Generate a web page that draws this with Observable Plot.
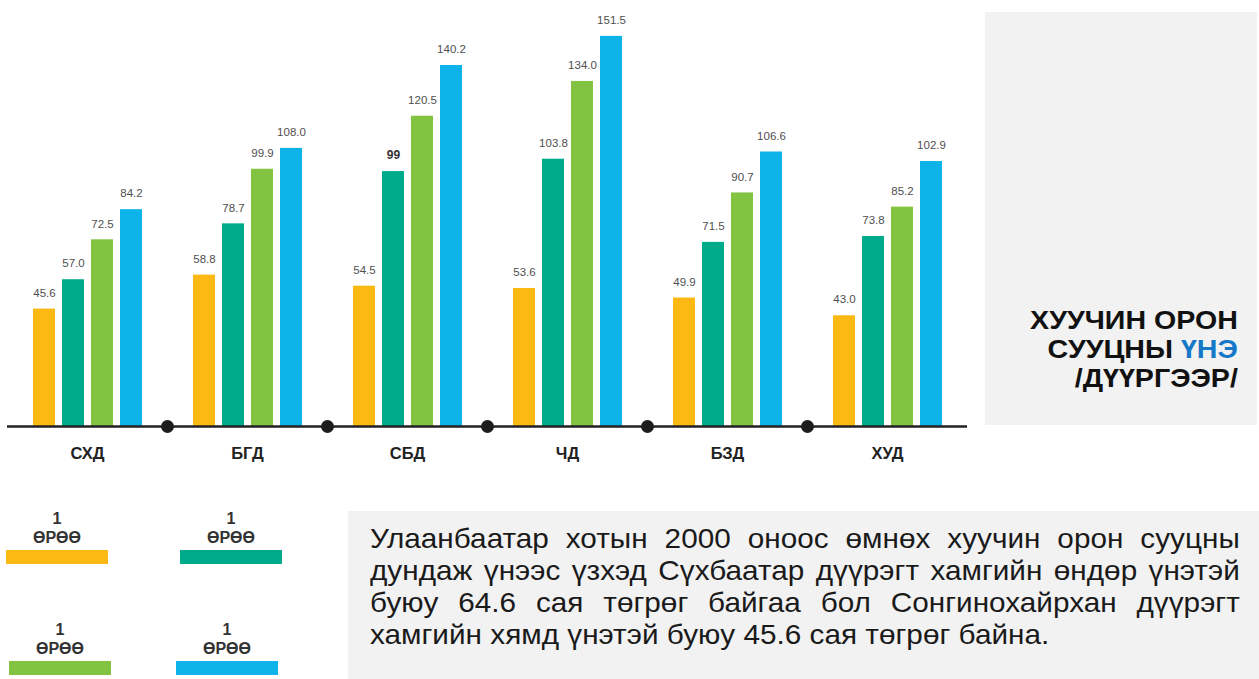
<!DOCTYPE html>
<html>
<head>
<meta charset="utf-8">
<script src="https://cdn.jsdelivr.net/npm/d3@7"></script>
<script src="https://cdn.jsdelivr.net/npm/@observablehq/plot@0.6"></script>
<style>
  html, body { margin: 0; padding: 0; background: #ffffff; }
  #page { position: relative; width: 1259px; height: 679px; overflow: hidden; font-family: "Liberation Sans", Arial, sans-serif; }
  #chart { position: absolute; left: 0; top: 0; }
  #chart [aria-label^="fx-axis"] text { font-size: 16.5px; font-weight: bold; fill: #222; }
  #titlebox { position: absolute; left: 985px; top: 12px; width: 272px; height: 413px; background: #f2f2f2; }
  #title { position: absolute; right: 21px; top: 306px; text-align: right; font-weight: bold; font-size: 26px; line-height: 29.2px; color: #111; white-space: nowrap; transform: scaleX(1.1); transform-origin: 100% 0; }
  #title .hl { color: #1778c8; }
  #textbox { position: absolute; left: 348px; top: 511px; width: 911px; height: 168px; background: #f2f2f2; overflow: hidden; }
  #para { position: absolute; left: 22px; top: 12px; width: 819px; transform: scaleX(1.062); transform-origin: 0 0; font-family: "Liberation Sans", Arial, sans-serif; font-size: 28px; line-height: 32px; color: #1a1a1a; }
  #para .ln { text-align: justify; text-align-last: justify; }
  #para .ln.last { text-align-last: left; }
  .leg { position: absolute; width: 102px; text-align: center; font-weight: bold; font-size: 16px; line-height: 19px; color: #333; }
  .leg .sw { height: 14px; margin-top: 3px; }
</style>
</head>
<body>
<div id="page">
  <div id="chart"></div>
  <div id="titlebox"></div>
  <div id="title">ХУУЧИН ОРОН<br>СУУЦНЫ <span class="hl">ҮНЭ</span><br>/ДҮҮРГЭЭР/</div>
  <div id="legend"></div>
  <div id="textbox"><div id="para"></div></div>
</div>
<script>
// ---- data ----
const districts = ["СХД", "БГД", "СБД", "ЧД", "БЗД", "ХУД"];
const seriesKeys = ["s1", "s2", "s3", "s4"];
const seriesColors = ["#fcb813", "#00ab8c", "#82c341", "#0db3e9"];
const legendNumbers = ["1", "1", "1", "1"];
const legendWord = "ӨРӨӨ";
const s1 = [45.6, 58.8, 54.5, 53.6, 49.9, 43.0];
const s2 = [57.0, 78.7, 99, 103.8, 71.5, 73.8];
const s3 = [72.5, 99.9, 120.5, 134.0, 90.7, 85.2];
const s4 = [84.2, 108.0, 140.2, 151.5, 106.6, 102.9];
const s2Labels = ["57.0", "78.7", "99", "103.8", "71.5", "73.8"];
const boldLabels = ["s2|СБД"];
const paragraphLines = [
  "Улаанбаатар хотын 2000 оноос өмнөх хуучин орон сууцны",
  "дундаж үнээс үзхэд Сүхбаатар дүүрэгт хамгийн өндөр үнэтэй",
  "буюу 64.6 сая төгрөг байгаа бол Сонгинохайрхан дүүрэгт",
  "хамгийн хямд үнэтэй буюу 45.6 сая төгрөг байна."
];

const seriesValues = [s1, s2, s3, s4];
const table = [];
districts.forEach((d, i) => {
  seriesKeys.forEach((s, j) => {
    const v = seriesValues[j][i];
    const label = j === 1 ? s2Labels[i] : v.toFixed(1);
    table.push({district: d, series: s, value: v, label, bold: boldLabels.includes(s + "|" + d)});
  });
});
const separators = districts.slice(0, -1).map(d => ({district: d, base: 0}));

const chart = Plot.plot({
  width: 985,
  height: 470,
  marginLeft: 7,
  marginRight: 18,
  marginTop: 14,
  marginBottom: 44,
  style: {fontFamily: "'Liberation Sans', Arial, sans-serif", background: "transparent", overflow: "visible"},
  fx: {domain: districts, padding: 0, label: null, tickSize: 0, tickPadding: 21, axis: "bottom"},
  x: {domain: seriesKeys, paddingInner: 0.25, paddingOuter: 0.855, axis: null},
  y: {domain: [0, 160], axis: null},
  color: {domain: seriesKeys, range: seriesColors},
  marks: [
    Plot.barY(table, {fx: "district", x: "series", y: "value", fill: "series"}),
    Plot.text(table.filter(d => !d.bold), {fx: "district", x: "series", y: "value", text: "label", dy: -16, fontSize: 11.5, fill: "#4f4f4f"}),
    Plot.text(table.filter(d => d.bold), {fx: "district", x: "series", y: "value", text: "label", dy: -16, fontSize: 12, fontWeight: "bold", fill: "#333"}),
    Plot.ruleY([0], {stroke: "#222", strokeWidth: 2.6}),
    Plot.dot(separators, {fx: "district", y: "base", frameAnchor: "right", r: 6.5, fill: "#1c1c1c", stroke: "none"})
  ]
});
document.getElementById("chart").appendChild(chart);

// legend
const legPos = [[6, 509], [180, 509], [9, 620], [176, 620]];
const legend = document.getElementById("legend");
seriesKeys.forEach((s, j) => {
  const el = document.createElement("div");
  el.className = "leg";
  el.style.left = legPos[j][0] + "px";
  el.style.top = legPos[j][1] + "px";
  el.innerHTML = `<div>${legendNumbers[j]}</div><div>${legendWord}</div><div class="sw" style="background:${seriesColors[j]}"></div>`;
  legend.appendChild(el);
});

// paragraph
const para = document.getElementById("para");
paragraphLines.forEach((t, i) => {
  const el = document.createElement("div");
  el.className = "ln" + (i === paragraphLines.length - 1 ? " last" : "");
  el.textContent = t;
  para.appendChild(el);
});
</script>
</body>
</html>
